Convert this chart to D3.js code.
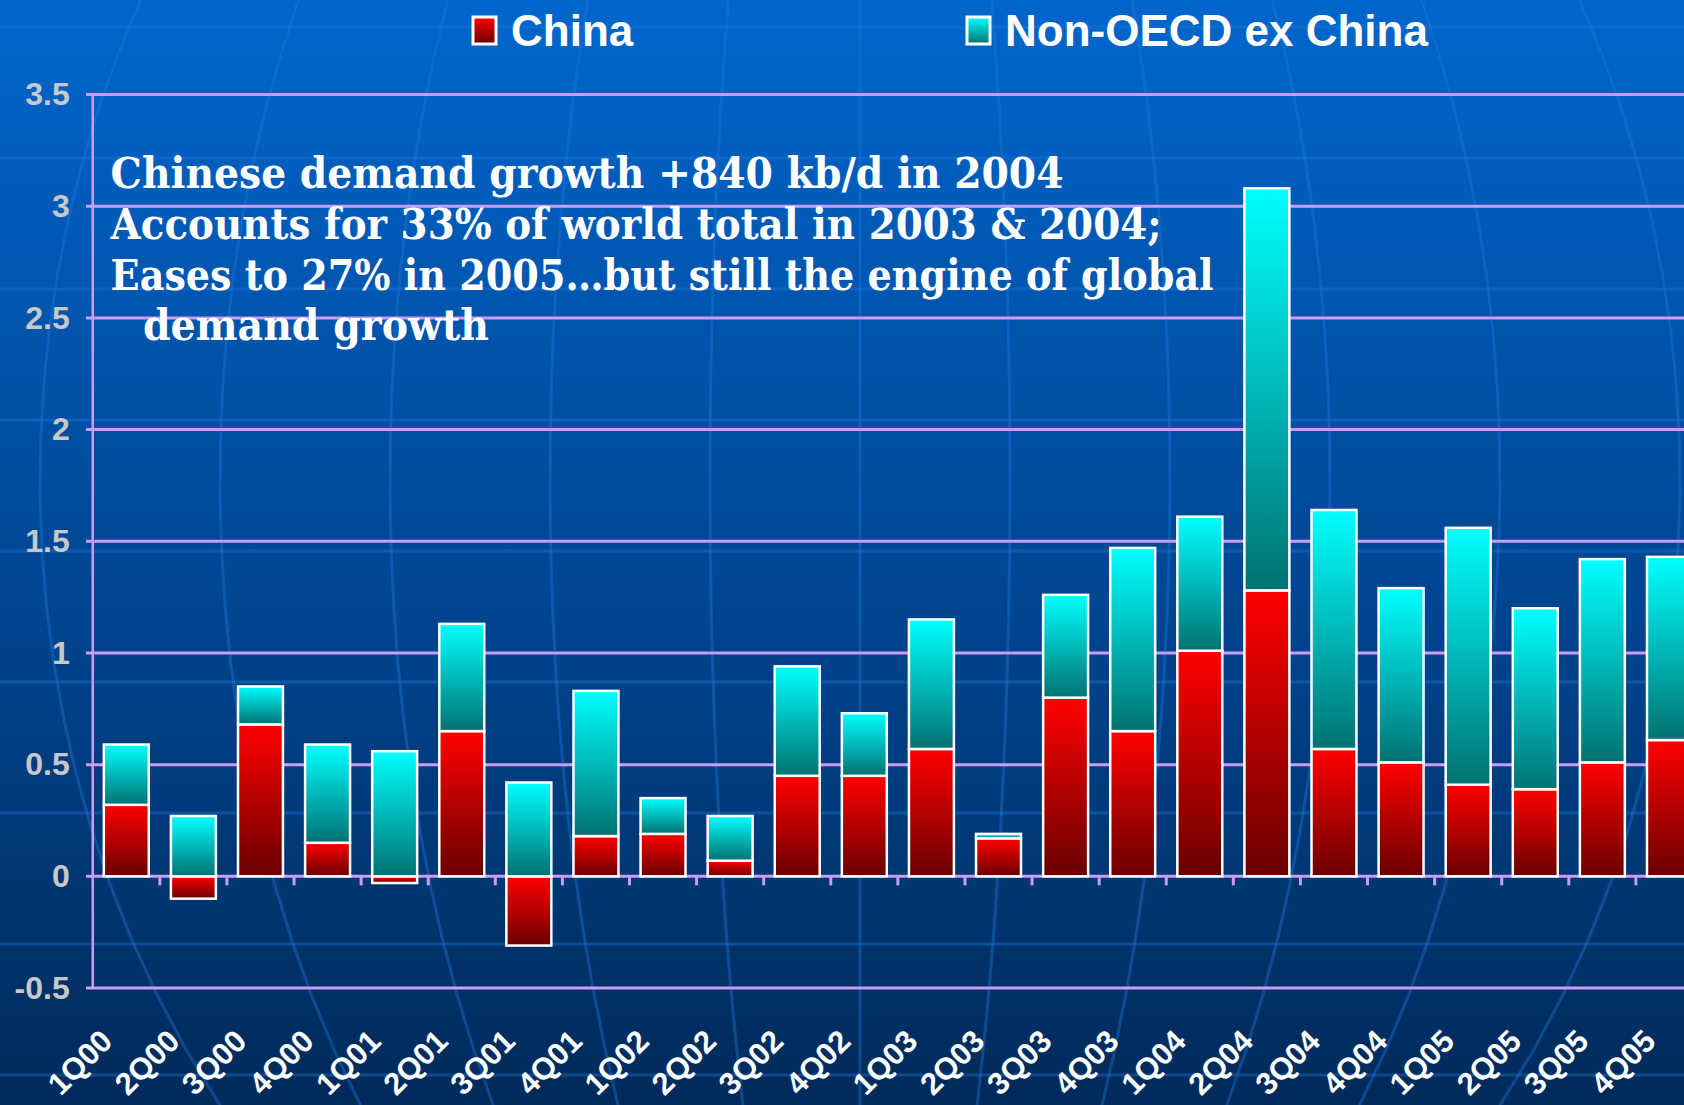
<!DOCTYPE html>
<html>
<head>
<meta charset="utf-8">
<script src="https://cdn.jsdelivr.net/npm/d3@7"></script>
<style>
body { margin: 0; background: #003a80; }
svg { display: block; }
</style>
</head>
<body>
<svg id="chart" width="1684" height="1105"></svg>
<script>
// quarters on the x axis
var quarters = ["1Q00", "2Q00", "3Q00", "4Q00", "1Q01", "2Q01", "3Q01", "4Q01",
                "1Q02", "2Q02", "3Q02", "4Q02", "1Q03", "2Q03", "3Q03", "4Q03",
                "1Q04", "2Q04", "3Q04", "4Q04", "1Q05", "2Q05", "3Q05", "4Q05"];

// demand growth, mb/d
var china   = [0.32, -0.10, 0.68, 0.15, -0.03, 0.65, -0.31, 0.18,
               0.19, 0.07, 0.45, 0.45, 0.57, 0.17, 0.80, 0.65,
               1.01, 1.28, 0.57, 0.51, 0.41, 0.39, 0.51, 0.61];
var nonOecd = [0.27, 0.27, 0.17, 0.44, 0.56, 0.48, 0.42, 0.65,
               0.16, 0.20, 0.49, 0.28, 0.58, 0.02, 0.46, 0.82,
               0.60, 1.80, 1.07, 0.78, 1.15, 0.81, 0.91, 0.82];

var yTicks = [-0.5, 0, 0.5, 1, 1.5, 2, 2.5, 3, 3.5];
var seriesNames = ["China", "Non-OECD ex China"];
var noteLines = ["Chinese demand growth +840 kb/d in 2004",
                 "Accounts for 33% of world total in 2003 & 2004;",
                 "Eases to 27% in 2005\u2026but still the engine of global",
                 "demand growth"];

var W = 1684, H = 1105;
var svg = d3.select("#chart");
var defs = svg.append("defs");

function vGradient(id, stops) {
    var g = defs.append("linearGradient").attr("id", id)
        .attr("x1", 0).attr("y1", 0).attr("x2", 0).attr("y2", 1);
    stops.forEach(function(s) {
        g.append("stop").attr("offset", s[0]).attr("stop-color", s[1]);
    });
}
vGradient("bg", [["0%", "#0066cc"], ["45%", "#004b9c"], ["100%", "#002a5a"]]);
vGradient("gChina", [["0%", "#ff0000"], ["100%", "#690000"]]);
vGradient("gNon", [["0%", "#00ffff"], ["100%", "#007272"]]);

// background
svg.append("rect").attr("width", W).attr("height", H).attr("fill", "url(#bg)");

// faint globe lines behind the chart
var deco = svg.append("g").attr("stroke", "#1f78dd").attr("stroke-opacity", 0.4)
    .attr("stroke-width", 3).attr("fill", "none");
deco.selectAll("line").data(d3.range(9)).join("line")
    .attr("x1", 0).attr("x2", W)
    .attr("y1", function(i) { return 27 + 131 * i; })
    .attr("y2", function(i) { return 27 + 131 * i; });

var meridians = [-820, -640, -470, -310, -150, 0, 150, 310, 470, 640, 820];
var meridian = d3.line()
    .x(function(t) { return t[0]; })
    .y(function(t) { return t[1]; });
deco.selectAll("path").data(meridians).join("path")
    .attr("d", function(a) {
        var pts = d3.range(-0.1, 1.21, 0.05).map(function(y01) {
            var yy = y01 * H;
            var c = (480 - yy) / 1000;
            return [860 + a * Math.sqrt(1 - c * c), yy];
        });
        return meridian(pts);
    });

// scales
var x = d3.scaleBand().domain(quarters).range([92.75, 1703])
    .paddingInner(0.33).paddingOuter(0.165);
var y = d3.scaleLinear().domain([-0.5, 3.5]).range([988, 94.5]);

// grid
svg.append("g").selectAll("line").data(yTicks).join("line")
    .attr("x1", 86).attr("x2", W)
    .attr("y1", function(d) { return y(d); })
    .attr("y2", function(d) { return y(d); })
    .attr("stroke", "#c89ef4").attr("stroke-width", 3);

svg.append("line")
    .attr("x1", 92.75).attr("x2", 92.75)
    .attr("y1", y(3.5)).attr("y2", y(-0.5))
    .attr("stroke", "#c89ef4").attr("stroke-width", 2.5);

// small ticks between categories
var step = x.step();
svg.append("g").selectAll("line").data(d3.range(1, quarters.length)).join("line")
    .attr("x1", function(k) { return 92.75 + k * step; })
    .attr("x2", function(k) { return 92.75 + k * step; })
    .attr("y1", y(0)).attr("y2", y(0) + 9)
    .attr("stroke", "#c89ef4").attr("stroke-width", 3);

// y labels
var yAxis = d3.axisLeft(y).tickValues(yTicks).tickSize(0).tickPadding(23)
    .tickFormat(function(d) { return String(d); });
var ya = svg.append("g").attr("transform", "translate(92.75,0)").call(yAxis);
ya.select(".domain").remove();
ya.selectAll("text")
    .attr("fill", "#c8c8c8")
    .style("font-family", "'Liberation Sans', Arial, sans-serif")
    .style("font-weight", "bold")
    .style("font-size", "32px");

// stacked bars
var rows = quarters.map(function(q, i) { return { q: q, china: china[i], nonOecd: nonOecd[i] }; });
var stack = d3.stack().keys(["china", "nonOecd"]).offset(d3.stackOffsetDiverging);
var series = stack(rows);
var fills = { china: "url(#gChina)", nonOecd: "url(#gNon)" };

svg.append("g").selectAll("g").data(series).join("g")
    .attr("fill", function(s) { return fills[s.key]; })
    .selectAll("rect").data(function(s) { return s; }).join("rect")
    .attr("x", function(d) { return x(d.data.q); })
    .attr("width", x.bandwidth())
    .attr("y", function(d) { return y(Math.max(d[0], d[1])); })
    .attr("height", function(d) { return Math.abs(y(d[0]) - y(d[1])); })
    .attr("stroke", "#ffffff").attr("stroke-width", 2.5);

// x labels
svg.append("g").selectAll("text").data(quarters).join("text")
    .attr("transform", function(q) {
        return "translate(" + (x(q) + x.bandwidth() / 2 - 12) + ",1043) rotate(-45)";
    })
    .attr("text-anchor", "end")
    .attr("fill", "#ffffff")
    .style("font-family", "'Liberation Sans', Arial, sans-serif")
    .style("font-weight", "bold")
    .style("font-size", "31px")
    .text(function(q) { return q; });

// legend
var legendX = [473, 967];
var legend = svg.append("g").selectAll("g").data(seriesNames).join("g")
    .attr("transform", function(d, i) { return "translate(" + legendX[i] + ",0)"; });
legend.append("rect")
    .attr("x", 0).attr("y", 17).attr("width", 23).attr("height", 27)
    .attr("fill", function(d, i) { return i === 0 ? "url(#gChina)" : "url(#gNon)"; })
    .attr("stroke", "#ffffff").attr("stroke-width", 3);
legend.append("text")
    .attr("x", 38).attr("y", 46)
    .attr("fill", "#ffffff")
    .style("font-family", "'Liberation Sans', Arial, sans-serif")
    .style("font-weight", "bold")
    .style("font-size", "44px")
    .text(function(d) { return d; });

// annotation
var noteX = [110.6, 110.6, 110.6, 143];
var noteY = [188, 238.5, 290, 339.5];
var noteW = [953, 1051, 1103, 346];
svg.append("g").selectAll("text").data(noteLines).join("text")
    .attr("x", function(d, i) { return noteX[i]; })
    .attr("y", function(d, i) { return noteY[i]; })
    .attr("textLength", function(d, i) { return noteW[i]; })
    .attr("lengthAdjust", "spacingAndGlyphs")
    .attr("fill", "#ffffff")
    .style("font-family", "'DejaVu Serif', Georgia, serif")
    .style("font-weight", "bold")
    .style("font-size", "42px")
    .text(function(d) { return d; });
</script>
</body>
</html>
